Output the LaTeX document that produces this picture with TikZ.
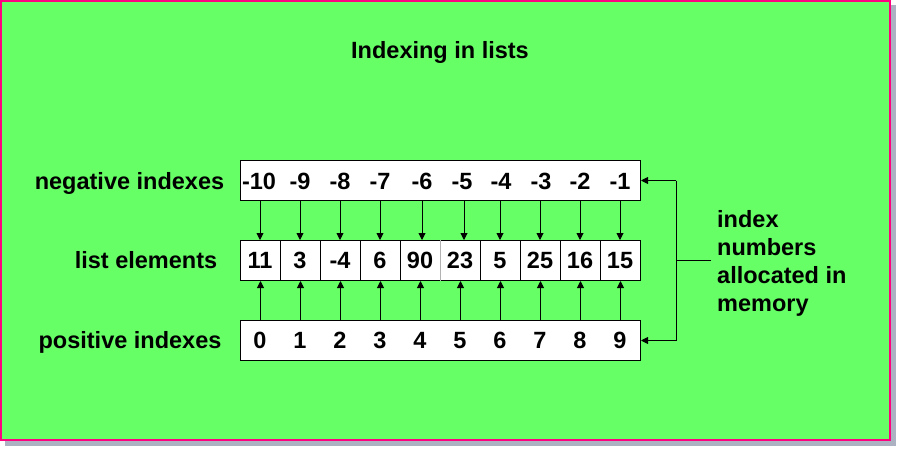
\documentclass[tikz,border=0pt]{standalone}
\usepackage{fontspec}
\setmainfont{Liberation Sans}
\usetikzlibrary{arrows.meta}
\definecolor{bggreen}{RGB}{102,255,102}
\definecolor{framepink}{RGB}{255,0,128}
\definecolor{shadowgray}{RGB}{172,178,194}
\begin{document}
\begin{tikzpicture}[x=1pt,y=-1pt,
  lbl/.style={font=\fontsize{23.5}{28}\selectfont\bfseries, inner sep=0pt},
  cell/.style={draw=black, fill=white, line width=1pt, minimum width=40pt, minimum height=40pt, inner sep=0pt, anchor=north west},
  rowbox/.style={draw=black, fill=white, line width=1pt, minimum width=400pt, minimum height=40pt, inner sep=0pt, anchor=north west},
  arr/.style={-{Triangle[length=7pt,width=7pt]}, line width=0.9pt, black},
  link/.style={line width=0.9pt, black}]
\useasboundingbox (0,0) rectangle (905,456);
% background
\fill[shadowgray] (5,5) rectangle (896,446);
\draw[fill=bggreen, draw=framepink, line width=2pt] (1,1) rectangle (890,440);
% title
\node[lbl, anchor=base] (title) at (440,58) {Indexing in lists};
% row labels
\node[lbl, anchor=base] (neglbl) at (129.5,189) {negative indexes};
\node[lbl, anchor=base] (listlbl) at (146,268) {list elements};
\node[lbl, anchor=base] (poslbl) at (130,348) {positive indexes};
% boxes
\node[rowbox] (neg) at (240,160) {};
\node[rowbox] (pos) at (240,320) {};
\foreach \i/\v in {1/11,2/3,3/-4,4/6,5/90,6/23,7/5,8/25,9/16,10/15}{
  \node[cell] (c\i) at ({200+40*\i},240) {};
  \node[lbl, anchor=base] (v\i) at ({220+40*\i},268) {\v};
}
\draw[gray!60, line width=1pt] (c6.north west) -- (c6.south west);
% negative labels
\foreach \i/\x/\t in {1/259/-10,2/300/-9,3/340/-8,4/380/-7,5/422/-6,6/462/-5,7/501/-4,8/541/-3,9/580/-2,10/620/-1}{
  \node[lbl, anchor=base] (n\i) at (\x,189) {\t};
}
% positive labels
\foreach \i/\t in {1/0,2/1,3/2,4/3,5/4,6/5,7/6,8/7,9/8,10/9}{
  \node[lbl, anchor=base] (p\i) at ({220+40*\i},348) {\t};
}
% arrows top
\foreach \i/\x in {1/260,2/300,3/340,4/380,5/422,6/464,7/500,8/540,9/580,10/620}{
  \coordinate (ta\i) at (\x,200);
  \draw[arr] (ta\i) -- (ta\i |- c\i.north);
}
% arrows bottom
\foreach \i in {1,...,10}{
  \draw[arr] (pos.north -| c\i) -- (c\i.south);
}
% bracket
\coordinate (bt) at ([xshift=35pt]neg.east);
\coordinate (bb) at ([xshift=35pt]pos.east);
\coordinate (bm) at (711,260);
\draw[link] (bt) -- (bb);
\draw[arr] (bt) -- (neg.east);
\draw[arr] (bb) -- (pos.east);
\draw[link] (bm) -- (bm -| bt);
\node[lbl, anchor=north west, align=left] (mem) at (717,210) {index\\numbers\\allocated in\\memory};
\end{tikzpicture}
\end{document}
